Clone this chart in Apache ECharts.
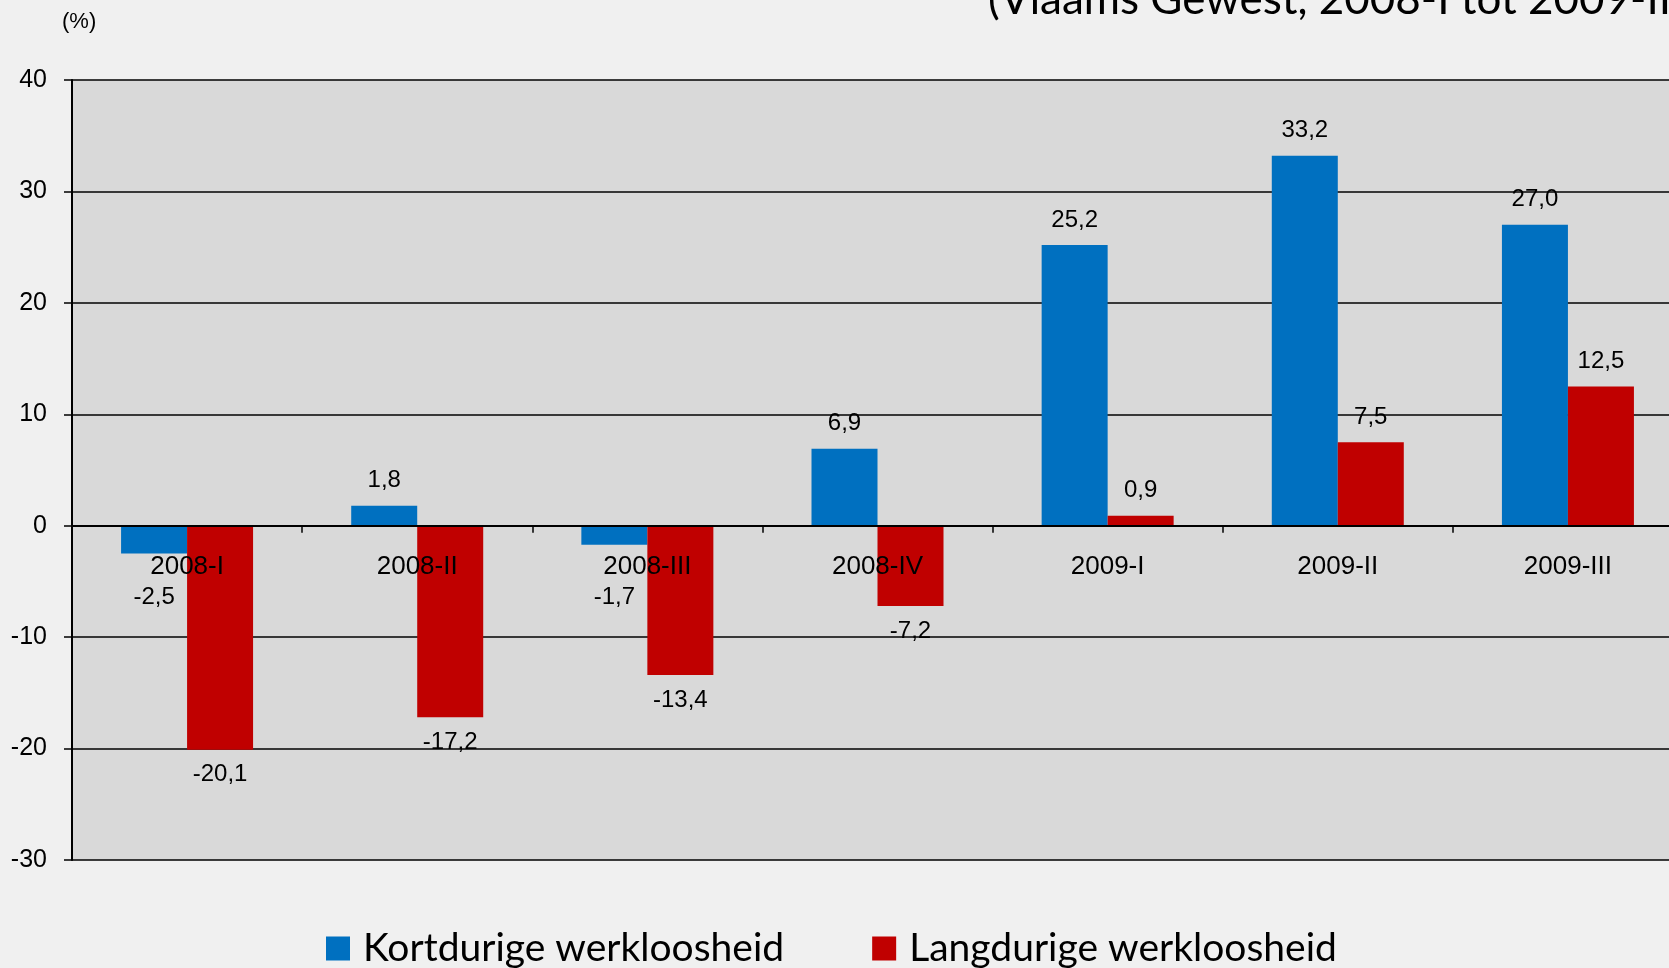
<!DOCTYPE html>
<html>
<head>
<meta charset="utf-8">
<script src="https://cdn.jsdelivr.net/npm/echarts@6/dist/echarts.min.js"></script>
<style>
  html, body { margin: 0; padding: 0; background: #f0f0f0; }
  #chart { width: 1669px; height: 968px; }
</style>
</head>
<body>
<div id="chart"></div>
<script>
// kwartalen
const categories = ['2008-I', '2008-II', '2008-III', '2008-IV', '2009-I', '2009-II', '2009-III'];
// groei t.o.v. zelfde kwartaal vorig jaar (%)
const kortdurig = [-2.5, 1.8, -1.7, 6.9, 25.2, 33.2, 27.0];
const langdurig = [-20.1, -17.2, -13.4, -7.2, 0.9, 7.5, 12.5];
const yTicks = { min: -30, max: 40, step: 10 };

const fmt = v => v.toFixed(1).replace('.', ',');

const gridTop = 80, gridBottom = 108, chartH = 968;
const plotH = chartH - gridTop - gridBottom;
// x-as op de nullijn leggen (labels mee)
const zeroOffset = -plotH * (0 - yTicks.min) / (yTicks.max - yTicks.min);

// labels onder negatieve staven, kleine negatieve labels onder de categorielabels
function toItems(values) {
  return values.map(v => {
    let dist = 13;
    if (v < 0 && v > -5) dist = 60 - Math.abs(v) * 11.1;
    return {
      value: v,
      label: { position: v < 0 ? 'bottom' : 'top', distance: dist }
    };
  });
}

const chart = echarts.init(document.getElementById('chart'));

const option = {
  backgroundColor: '#f0f0f0',
  animation: false,
  grid: {
    left: 72, right: -14, top: gridTop, bottom: gridBottom,
    outerBoundsMode: 'none',
    show: true, backgroundColor: '#d9d9d9', borderWidth: 0
  },
  graphic: [
    {
      type: 'text', left: 62, top: 11,
      style: { text: '(%)', font: '22px "Liberation Sans", Arial', fill: '#000' }
    },
    {
      type: 'text', left: 988, top: -22,
      style: { text: '(Vlaams Gewest, 2008-I tot 2009-III)', font: '44px Lato', fill: '#000' }
    }
  ],
  legend: {
    left: 326, top: 929, padding: 0,
    icon: 'rect', itemWidth: 24, itemHeight: 24, itemGap: 88,
    textStyle: { fontFamily: 'Lato', fontSize: 39, color: '#000', padding: [0, 0, 0, 8] },
    data: ['Kortdurige werkloosheid', 'Langdurige werkloosheid']
  },
  xAxis: {
    type: 'category',
    data: categories,
    position: 'bottom',
    offset: zeroOffset,
    z: 10,
    axisLine: { onZero: false, lineStyle: { color: '#000', width: 2 } },
    axisTick: { show: true, length: 7, lineStyle: { color: '#000', width: 1.5 } },
    axisLabel: { margin: 28, fontFamily: '"Liberation Sans", Arial', fontSize: 26, color: '#000' },
    splitLine: { show: false }
  },
  yAxis: {
    type: 'value',
    min: yTicks.min, max: yTicks.max, interval: yTicks.step,
    axisLine: { show: true, lineStyle: { color: '#000', width: 2 } },
    axisTick: { show: true, length: 8, lineStyle: { color: '#000', width: 1.5 } },
    axisLabel: { margin: 25, fontFamily: '"Liberation Sans", Arial', fontSize: 25, color: '#000' },
    splitLine: { show: true, lineStyle: { color: '#000', width: 1.5 } }
  },
  series: [
    {
      name: 'Kortdurige werkloosheid',
      type: 'bar',
      barWidth: 66,
      barGap: '0%',
      itemStyle: { color: '#0070c0' },
      label: {
        show: true, formatter: p => fmt(p.value),
        fontFamily: '"Liberation Sans", Arial', fontSize: 24, color: '#000'
      },
      data: toItems(kortdurig)
    },
    {
      name: 'Langdurige werkloosheid',
      type: 'bar',
      barWidth: 66,
      barGap: '0%',
      itemStyle: { color: '#c00000' },
      label: {
        show: true, formatter: p => fmt(p.value),
        fontFamily: '"Liberation Sans", Arial', fontSize: 24, color: '#000'
      },
      data: toItems(langdurig)
    }
  ]
};

chart.setOption(option);
</script>
</body>
</html>
